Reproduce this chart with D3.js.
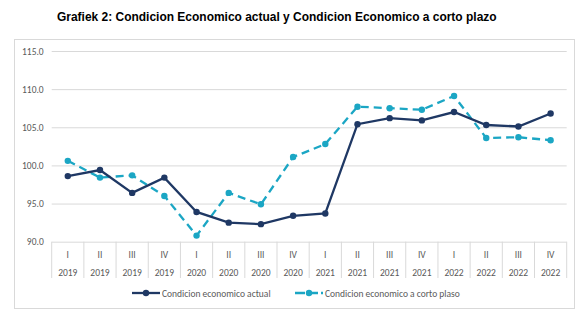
<!DOCTYPE html>
<html>
<head>
<meta charset="utf-8">
<script src="https://cdn.jsdelivr.net/npm/d3@7"></script>
<style>
  body { margin: 0; background: #fff; }
  svg { display: block; }
</style>
</head>
<body>
<div id="chart"></div>
<script>
// data
var quarters = ["I", "II", "III", "IV", "I", "II", "III", "IV", "I", "II", "III", "IV", "I", "II", "III", "IV"];
var years = ["2019", "2019", "2019", "2019", "2020", "2020", "2020", "2020", "2021", "2021", "2021", "2021", "2022", "2022", "2022", "2022"];
var actual = [98.6, 99.4, 96.4, 98.4, 93.9, 92.5, 92.3, 93.4, 93.7, 105.4, 106.2, 105.9, 107.0, 105.3, 105.1, 106.8];
var cortoPlazo = [100.6, 98.4, 98.7, 96.0, 90.8, 96.4, 94.9, 101.1, 102.8, 107.7, 107.5, 107.3, 109.1, 103.6, 103.7, 103.3];
var yTicks = [90, 95, 100, 105, 110, 115];

var W = 583, H = 324;
var plotLeft = 51.7, plotRight = 566.7, plotTop = 51, plotBottom = 241.7;

var svg = d3.select("#chart").append("svg")
    .attr("width", W)
    .attr("height", H);

// title
var title = svg.append("text")
    .attr("x", 57)
    .attr("y", 21)
    .attr("font-family", "Liberation Sans, Arial, sans-serif")
    .attr("font-weight", "bold")
    .attr("font-size", 12)
    .attr("fill", "#000")
    .text("Grafiek 2: Condicion Economico actual y Condicion Economico a corto plazo");
var tw = title.node().getComputedTextLength();
title.attr("font-size", 12 * 440 / tw);

// frame
svg.append("rect")
    .attr("x", 14.5).attr("y", 39.5)
    .attr("width", 560).attr("height", 269)
    .attr("fill", "#fff")
    .attr("stroke", "#d9d9d9");

var idx = d3.range(quarters.length);
var x = d3.scaleBand().domain(idx).range([plotLeft, plotRight]);
var y = d3.scaleLinear().domain([90, 115]).range([plotBottom, plotTop]);

var font = "Calibri, Carlito, 'Open Sans', sans-serif";

// gridlines + y labels
var yAxis = d3.axisLeft(y).tickValues(yTicks).tickSize(-(plotRight - plotLeft)).tickPadding(8)
    .tickFormat(d3.format(".1f"));
var gy = svg.append("g")
    .attr("transform", "translate(" + plotLeft + ",0)")
    .call(yAxis);
gy.select(".domain").remove();
gy.selectAll("line").attr("stroke", "#d9d9d9").attr("stroke-width", 1);
gy.selectAll("text").attr("fill", "#595959").attr("font-size", 9.5).attr("font-family", font);

// category axis box
var boxBottom = 278;
svg.append("g").selectAll("line")
    .data(d3.range(quarters.length + 1))
    .join("line")
    .attr("x1", function(d) { return plotLeft + d * x.step(); })
    .attr("x2", function(d) { return plotLeft + d * x.step(); })
    .attr("y1", plotBottom)
    .attr("y2", boxBottom)
    .attr("stroke", "#d9d9d9");

svg.append("g").selectAll("text")
    .data(idx)
    .join("text")
    .attr("x", function(d) { return x(d) + x.bandwidth() / 2; })
    .attr("y", 257.5)
    .attr("text-anchor", "middle")
    .attr("fill", "#595959")
    .attr("font-size", 9.5)
    .attr("font-family", font)
    .text(function(d) { return quarters[d]; });

svg.append("g").selectAll("text")
    .data(idx)
    .join("text")
    .attr("x", function(d) { return x(d) + x.bandwidth() / 2; })
    .attr("y", 276)
    .attr("text-anchor", "middle")
    .attr("fill", "#595959")
    .attr("font-size", 9.5)
    .attr("font-family", font)
    .text(function(d) { return years[d]; });

// lines
var dark = "#1f3864", cyan = "#1ba6c4";
var line = d3.line()
    .x(function(d, i) { return x(i) + x.bandwidth() / 2; })
    .y(function(d) { return y(d); });

svg.append("path")
    .datum(cortoPlazo)
    .attr("d", line)
    .attr("fill", "none")
    .attr("stroke", cyan)
    .attr("stroke-width", 2.3)
    .attr("stroke-dasharray", "8,5");
svg.append("g").selectAll("circle")
    .data(cortoPlazo)
    .join("circle")
    .attr("cx", function(d, i) { return x(i) + x.bandwidth() / 2; })
    .attr("cy", function(d) { return y(d); })
    .attr("r", 3.2)
    .attr("fill", cyan);

svg.append("path")
    .datum(actual)
    .attr("d", line)
    .attr("fill", "none")
    .attr("stroke", dark)
    .attr("stroke-width", 2.3);
svg.append("g").selectAll("circle")
    .data(actual)
    .join("circle")
    .attr("cx", function(d, i) { return x(i) + x.bandwidth() / 2; })
    .attr("cy", function(d) { return y(d); })
    .attr("r", 3.2)
    .attr("fill", dark);

// legend
var legend = [
  { name: "Condicion economico actual", color: dark, dash: null, x0: 132 },
  { name: "Condicion economico a corto plaso", color: cyan, dash: "10,3", x0: 295 }
];
var lg = svg.append("g").selectAll("g")
    .data(legend)
    .join("g")
    .attr("transform", function(d) { return "translate(" + d.x0 + ",293)"; });
lg.append("line")
    .attr("x1", 0).attr("x2", 28)
    .attr("stroke", function(d) { return d.color; })
    .attr("stroke-width", 2.3)
    .attr("stroke-dasharray", function(d) { return d.dash; });
lg.append("circle")
    .attr("cx", 14).attr("r", 3.2)
    .attr("fill", function(d) { return d.color; });
lg.append("text")
    .attr("x", 30)
    .attr("y", 3.5)
    .attr("fill", "#595959")
    .attr("font-size", 9.5)
    .attr("font-family", font)
    .text(function(d) { return d.name; });
</script>
</body>
</html>
